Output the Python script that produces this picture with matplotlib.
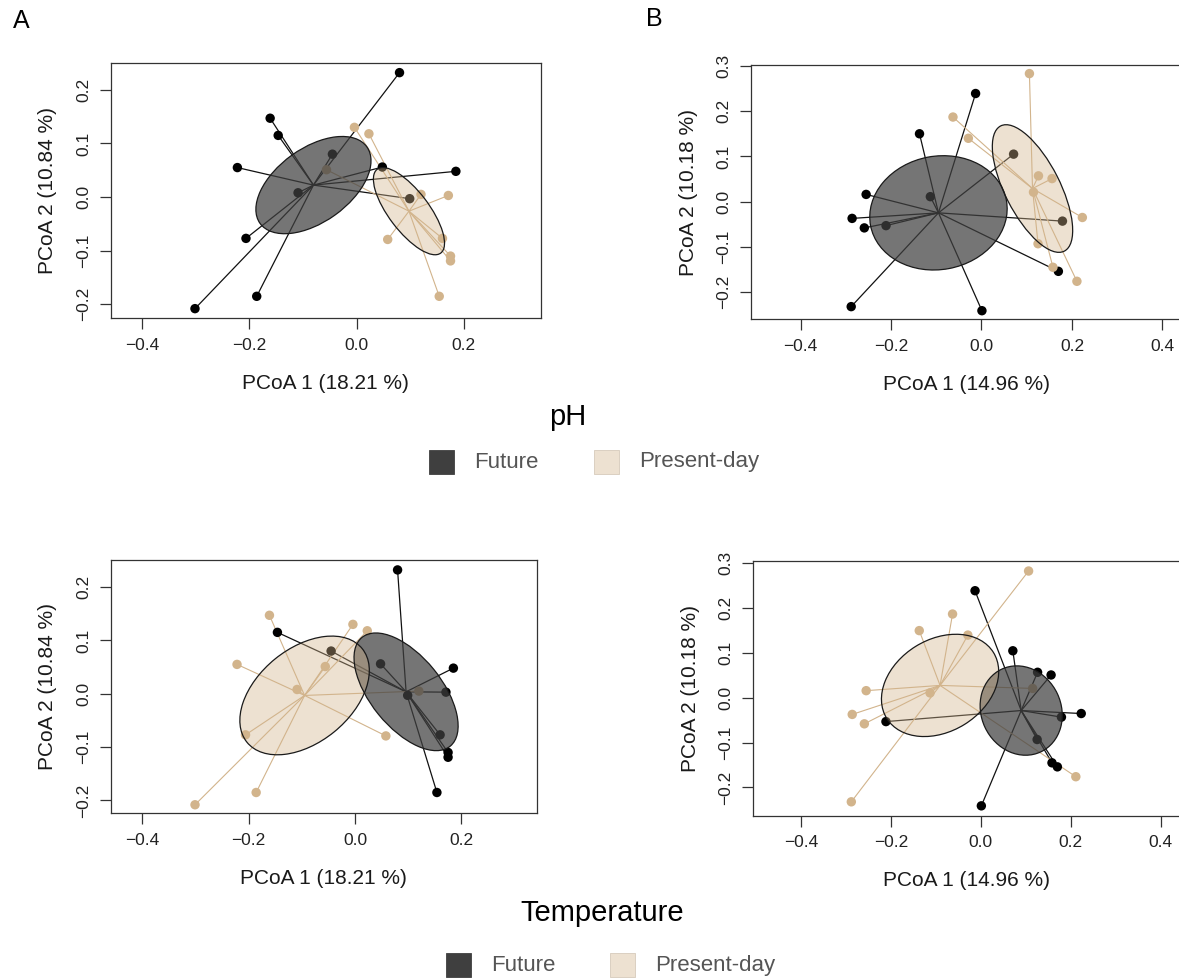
import numpy as np
import matplotlib
matplotlib.use('Agg')
import matplotlib.pyplot as plt
from matplotlib.patches import Ellipse, Rectangle
from matplotlib.ticker import FuncFormatter

plt.rcParams['font.family'] = ['Liberation Sans', 'DejaVu Sans']

# ------------------------------------------------------------------ #
# Data
# ------------------------------------------------------------------ #

# Ordination A: PCoA 1 (18.21 %) / PCoA 2 (10.84 %)
a_pc1 = [0.080, -0.161, -0.146, -0.045, -0.222, 0.048, 0.185, -0.109, 0.099, -0.206, -0.186, -0.301,
         -0.004, 0.023, -0.056, 0.120, 0.171, 0.058, 0.160, 0.175, 0.175, 0.154]
a_pc2 = [0.232, 0.147, 0.115, 0.080, 0.055, 0.056, 0.048, 0.008, -0.003, -0.077, -0.185, -0.208,
         0.130, 0.118, 0.051, 0.005, 0.003, -0.079, -0.077, -0.110, -0.119, -0.185]
a_ph   = ['F'] * 12 + ['P'] * 10
a_temp = ['F', 'P', 'F', 'F', 'P', 'F', 'F', 'P', 'F', 'P', 'P', 'P',
          'P', 'P', 'P', 'P', 'F', 'P', 'F', 'F', 'F', 'F']

# Ordination B: PCoA 1 (14.96 %) / PCoA 2 (10.18 %)
b_pc1 = [-0.013, -0.137, -0.255, -0.113, -0.286, -0.259, -0.211, 0.071, 0.179, 0.170, -0.288, 0.001,
         0.106, -0.063, -0.029, 0.126, 0.156, 0.115, 0.223, 0.125, 0.158, 0.211]
b_pc2 = [0.239, 0.150, 0.016, 0.011, -0.037, -0.058, -0.053, 0.105, -0.043, -0.154, -0.232, -0.241,
         0.283, 0.187, 0.140, 0.057, 0.051, 0.021, -0.035, -0.093, -0.145, -0.176]
b_ph   = ['F'] * 12 + ['P'] * 10
b_temp = ['F', 'P', 'P', 'P', 'P', 'P', 'F', 'F', 'F', 'F', 'P', 'F',
          'P', 'P', 'P', 'F', 'F', 'P', 'F', 'F', 'F', 'P']

a_xlab, a_ylab = 'PCoA 1 (18.21 %)', 'PCoA 2 (10.84 %)'
b_xlab, b_ylab = 'PCoA 1 (14.96 %)', 'PCoA 2 (10.18 %)'
a_xticks = [-0.4, -0.2, 0.0, 0.2]
a_yticks = [-0.2, -0.1, 0.0, 0.1, 0.2]
b_xticks = [-0.4, -0.2, 0.0, 0.2, 0.4]
b_yticks = [-0.2, -0.1, 0.0, 0.1, 0.2, 0.3]

# confidence level of the SE ellipses, per panel
ph_conf_a, ph_conf_b     = 0.95, 0.99
temp_conf_a, temp_conf_b = 0.99, 0.95

groups      = ['F', 'P']
group_names = ['Future', 'Present-day']

# ------------------------------------------------------------------ #
# Styling
# ------------------------------------------------------------------ #
W, H = 1179, 980
PT_COL   = {'F': 'black', 'P': '#D2B48C'}
LINE_COL = {'F': '#111111', 'P': '#D2B48C'}
ELL_FACE = {'F': ('#404040', 0.72), 'P': ('#D2B48C', 0.40)}
KEY_COL  = {'F': '#3f3f3f', 'P': '#EDE1D1'}
AX_COL   = '#333333'

fig = plt.figure(figsize=(W / 100, H / 100), dpi=100)


def px(x, y):
    return x / W, 1 - y / H


def add_box(l, t, r, b):
    return fig.add_axes([l / W, 1 - b / H, (r - l) / W, (b - t) / H])


def se_ellipse(xy, conf):
    """ordiellipse(kind='se', conf=...) style ellipse"""
    n = len(xy)
    cov = np.cov(xy.T) / n
    scale = np.sqrt(-2 * np.log(1 - conf))
    vals, vecs = np.linalg.eigh(cov)
    angle = np.degrees(np.arctan2(vecs[1, 1], vecs[0, 1]))
    return (xy.mean(axis=0), 2 * scale * np.sqrt(vals[1]),
            2 * scale * np.sqrt(vals[0]), angle)


fmt = FuncFormatter(lambda v, p: f'{v:.1f}'.replace('-', '\u2212'))


def panel(box, xlim, ylim, pc1, pc2, grp, conf, xticks, yticks, xlab, ylab):
    l, t, r, b = box
    ax = add_box(l, t, r, b)
    xy = np.column_stack([pc1, pc2])
    grp = np.array(grp)

    # spiders -> points -> translucent ellipses
    for g in groups:
        pts = xy[grp == g]
        cx, cy = pts.mean(axis=0)
        for x, y in pts:
            ax.plot([cx, x], [cy, y], color=LINE_COL[g],
                    lw=0.9 if g == 'F' else 0.8, zorder=1)
    for g in groups:
        pts = xy[grp == g]
        ax.scatter(pts[:, 0], pts[:, 1], s=46, color=PT_COL[g],
                   edgecolors='none', zorder=2)
    for g in groups:
        pts = xy[grp == g]
        c, w, h, ang = se_ellipse(pts, conf)
        fc, al = ELL_FACE[g]
        ax.add_patch(Ellipse(c, w, h, angle=ang, facecolor=fc, alpha=al,
                             edgecolor='none', zorder=3))
        ax.add_patch(Ellipse(c, w, h, angle=ang, facecolor='none',
                             edgecolor='#1a1a1a', lw=0.9, zorder=4))

    ax.set_xlim(*xlim)
    ax.set_ylim(*ylim)
    ax.set_xticks(xticks)
    ax.set_yticks(yticks)
    ax.xaxis.set_major_formatter(fmt)
    ax.yaxis.set_major_formatter(fmt)
    ax.tick_params(direction='out', length=8, width=0.9, colors=AX_COL,
                   labelsize=12.5, labelcolor='#222222', pad=6)
    for lab in ax.get_yticklabels():
        lab.set_rotation(90)
        lab.set_va('center')
    for s in ax.spines.values():
        s.set_color(AX_COL)
        s.set_linewidth(0.9)

    fig.text(*px((l + r) / 2, b + 65), xlab,
             ha='center', va='center', fontsize=15, color='#1a1a1a')
    fig.text(*px(l - 63, (t + b) / 2), ylab, rotation=90,
             ha='center', va='center', fontsize=15, color='#1a1a1a')
    return ax


def legend_row(title, title_xy, keys_x, y):
    fig.text(*px(*title_xy), title, ha='center', va='center', fontsize=21,
             color='black')
    for g, name, kx in zip(groups, group_names, keys_x):
        fig.add_artist(Rectangle(px(kx, y + 12), 25 / W, 24 / H,
                                 transform=fig.transFigure,
                                 facecolor=KEY_COL[g],
                                 edgecolor='#d6cbbb' if g == 'P' else KEY_COL[g],
                                 lw=0.6))
        fig.text(*px(kx + 45, y), name, ha='left', va='center',
                 fontsize=16, color='#555555')


# ---- Top row: pH ----
panel((110.7, 63.3, 540.7, 318.3), (-0.458, 0.343), (-0.226, 0.2494),
      a_pc1, a_pc2, a_ph, ph_conf_a, a_xticks, a_yticks, a_xlab, a_ylab)
panel((751, 65, 1183, 319.3), (-0.5095, 0.4455), (-0.260, 0.302),
      b_pc1, b_pc2, b_ph, ph_conf_b, b_xticks, b_yticks, b_xlab, b_ylab)

# ---- Bottom row: Temperature ----
panel((110.7, 560, 536.7, 813.3), (-0.4596, 0.3417), (-0.224, 0.2506),
      a_pc1, a_pc2, a_temp, temp_conf_a, a_xticks, a_yticks, a_xlab, a_ylab)
panel((753, 560.7, 1180, 815.7), (-0.5065, 0.4425), (-0.263, 0.306),
      b_pc1, b_pc2, b_temp, temp_conf_b, b_xticks, b_yticks, b_xlab, b_ylab)

legend_row('pH', (568, 417), (429, 594), 462)
legend_row('Temperature', (602, 913), (446, 610), 965)

fig.text(*px(21, 21), 'A', ha='center', va='center', fontsize=18)
fig.text(*px(654, 19), 'B', ha='center', va='center', fontsize=18)

fig.savefig('out.png', dpi=100)
